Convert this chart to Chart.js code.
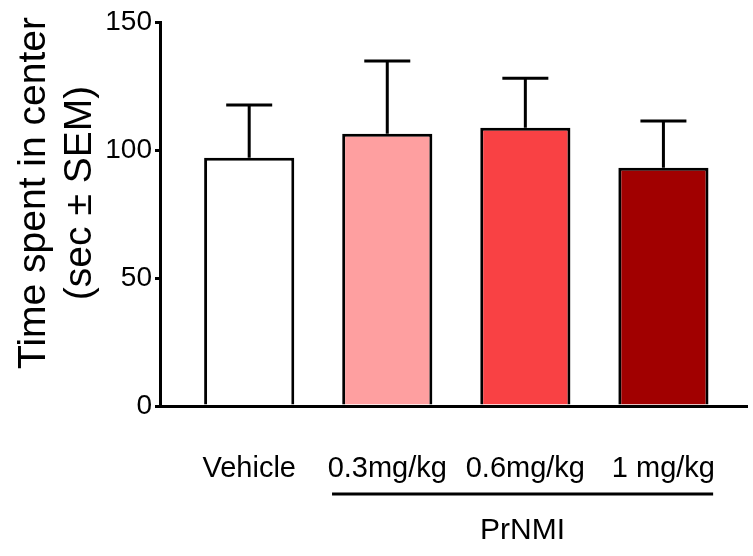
<!DOCTYPE html>
<html>
<head>
<meta charset="utf-8">
<script src="https://cdn.jsdelivr.net/npm/chart.js@4/dist/chart.umd.min.js"></script>
<style>
  html, body { margin: 0; padding: 0; background: #fff; }
  #wrap { width: 753px; height: 556px; }
</style>
</head>
<body>
<div id="wrap"><canvas id="chart" width="753" height="556"></canvas></div>
<script>
const categories = ['Vehicle', '0.3mg/kg', '0.6mg/kg', '1 mg/kg'];
const means = [97, 106.3, 108.7, 93.1];
const sems = [20.6, 28.5, 19.3, 18.2];
const yTicks = [0, 50, 100, 150];
const groupLabel = 'PrNMI';
const yTitle = ['Time spent in center', '(sec \u00b1 SEM)'];

const barColors = ['#ffffff', '#fe9fa0', '#f94144', '#a10000'];
const FONT = '"Liberation Sans", Arial, sans-serif';

// error bars + group bracket + y title, positioned through the scales
const extras = {
    id: 'extras',
    afterDatasetsDraw(chart) {
        const ctx = chart.ctx;
        const x = chart.scales.x, y = chart.scales.y;
        ctx.save();
        ctx.strokeStyle = '#000';
        ctx.lineWidth = 3;
        means.forEach((m, i) => {
            const px = x.getPixelForValue(i);
            const top = y.getPixelForValue(m);
            const hi = y.getPixelForValue(m + sems[i]);
            ctx.beginPath();
            ctx.moveTo(px, top);
            ctx.lineTo(px, hi);
            ctx.moveTo(px - 23, hi);
            ctx.lineTo(px + 23, hi);
            ctx.stroke();
        });

        // PrNMI bracket under the three dose groups
        const x1 = x.getPixelForValue(0.6), x2 = x.getPixelForValue(3.36);
        ctx.beginPath();
        ctx.moveTo(x1, 494);
        ctx.lineTo(x2, 494);
        ctx.stroke();
        ctx.fillStyle = '#000';
        ctx.font = '30px ' + FONT;
        ctx.textAlign = 'center';
        ctx.textBaseline = 'middle';
        ctx.fillText(groupLabel, (x1 + x2) / 2, 531);

        // y axis title, two lines
        ctx.translate(0, 193);
        ctx.rotate(-Math.PI / 2);
        ctx.font = '39px ' + FONT;
        ctx.fillText(yTitle[0], 0, 34);
        ctx.fillText(yTitle[1], 0, 80);
        ctx.restore();
    }
};

new Chart(document.getElementById('chart'), {
    type: 'bar',
    data: {
        datasets: [{
            data: means.map((v, i) => ({ x: i, y: v })),
            backgroundColor: barColors,
            borderColor: '#000',
            borderWidth: 3,
            barPercentage: 0.653,
            categoryPercentage: 1
        }]
    },
    options: {
        responsive: false,
        animation: false,
        layout: { padding: { top: 22, left: 0, right: -5, bottom: 0 } },
        plugins: { legend: { display: false }, tooltip: { enabled: false } },
        scales: {
            x: {
                type: 'linear',
                offset: false,
                min: -0.646,
                max: 3.61,
                afterFit: s => { s.height = 150; },
                afterBuildTicks: s => { s.ticks = categories.map((c, i) => ({ value: i })); },
                grid: { display: false, offset: false },
                border: { display: true, color: '#000', width: 3 },
                ticks: {
                    color: '#000',
                    font: { family: FONT, size: 29 },
                    padding: 38,
                    maxRotation: 0,
                    autoSkip: false,
                    callback: v => categories[v]
                }
            },
            y: {
                min: 0,
                max: 150,
                afterFit: s => { s.width = 160; },
                afterBuildTicks: s => { s.ticks = yTicks.map(v => ({ value: v })); },
                grid: { drawOnChartArea: false, drawTicks: true, tickLength: 5, color: '#000', lineWidth: 3 },
                border: { display: true, color: '#000', width: 3 },
                ticks: {
                    color: '#000',
                    font: { family: FONT, size: 28 },
                    padding: 3
                }
            }
        }
    },
    plugins: [extras]
});
</script>
</body>
</html>
